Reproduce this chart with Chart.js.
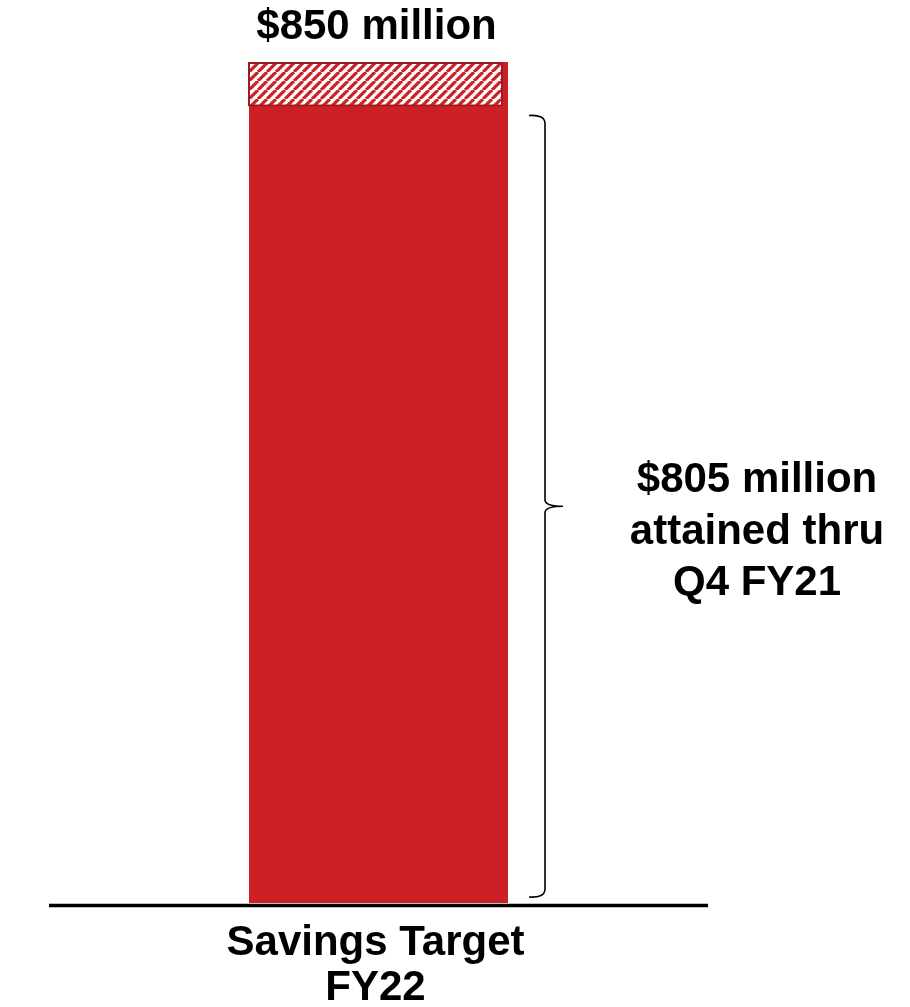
<!DOCTYPE html>
<html>
<head>
<meta charset="utf-8">
<script src="https://cdn.jsdelivr.net/npm/chart.js@4/dist/chart.umd.min.js"></script>
<style>
  html, body { margin: 0; padding: 0; background: #ffffff; }
  #wrap { width: 910px; height: 1007px; position: relative; }
</style>
</head>
<body>
<div id="wrap"><canvas id="c" width="910" height="1007"></canvas></div>
<script>
// ---- data ----
const categories = [["Savings Target", "FY22"]];
const targetValues = [850];
const attainedValues = [805];
const targetLabels = ["$850 million"];
const attainedLabelLines = ["$805 million", "attained thru", "Q4 FY21"];

const FONT = '"Liberation Sans", Arial, Helvetica, sans-serif';
const RED = 'rgb(204,31,38)';
const DARK_RED = 'rgb(155,26,32)';

function makeHatch() {
  const s = 9;
  const p = document.createElement('canvas');
  p.width = s; p.height = s;
  const g = p.getContext('2d');
  g.fillStyle = '#ffffff';
  g.fillRect(0, 0, s, s);
  g.strokeStyle = RED;
  g.lineWidth = 3.2;
  g.beginPath();
  for (let k = -1; k <= 1; k++) {
    g.moveTo(k * s, s);
    g.lineTo(k * s + s, 0);
  }
  g.stroke();
  return g.createPattern(p, 'repeat');
}

const ctx0 = document.getElementById('c').getContext('2d');
const hatch = makeHatch();

const decor = {
  id: 'decor',
  beforeDatasetDraw(chart, args) {
    if (args.index === 1) { chart.ctx.save(); chart.ctx.translate(-3, 0); }
  },
  afterDatasetDraw(chart, args) {
    if (args.index === 1) { chart.ctx.restore(); }
  },
  afterDraw(chart) {
    const ctx = chart.ctx;
    const ca = chart.chartArea;
    const y = chart.scales.y;
    const bar = chart.getDatasetMeta(0).data[0];
    const cx = bar.x;
    const half = bar.width / 2;

    ctx.save();
    // baseline axis
    ctx.strokeStyle = '#000';
    ctx.lineWidth = 3.5;
    ctx.beginPath();
    ctx.moveTo(ca.left, y.getPixelForValue(0) + 2.5);
    ctx.lineTo(ca.right, y.getPixelForValue(0) + 2.5);
    ctx.stroke();

    // text
    ctx.fillStyle = '#000';
    ctx.textAlign = 'center';
    ctx.textBaseline = 'alphabetic';
    ctx.font = 'bold 42px ' + FONT;
    ctx.fillText(targetLabels[0], cx - 2, y.getPixelForValue(targetValues[0]) - 23);

    // category label
    const lab = categories[0];
    ctx.fillText(lab[0], cx - 3, 955);
    ctx.fillText(lab[1], cx - 3, 1000);

    // brace
    const bx = cx + half + 37;
    const top = y.getPixelForValue(attainedValues[0]) + 9;
    const bot = y.getPixelForValue(0) - 6;
    const mid = (top + bot) / 2;
    ctx.strokeStyle = '#000';
    ctx.lineWidth = 1.6;
    ctx.beginPath();
    ctx.moveTo(bx - 16, top);
    ctx.quadraticCurveTo(bx, top - 1, bx, top + 8);
    ctx.lineTo(bx, mid - 6);
    ctx.quadraticCurveTo(bx + 1, mid, bx + 18, mid);
    ctx.quadraticCurveTo(bx + 1, mid, bx, mid + 6);
    ctx.lineTo(bx, bot - 8);
    ctx.quadraticCurveTo(bx, bot + 1, bx - 16, bot);
    ctx.stroke();

    // brace label
    ctx.font = 'bold 42px ' + FONT;
    const lx = 757;
    const base = [492, 543.5, 595];
    attainedLabelLines.forEach((t, i) => ctx.fillText(t, lx, base[i]));
    ctx.restore();
  }
};

new Chart(ctx0, {
  type: 'bar',
  data: {
    labels: categories,
    datasets: [
      {
        label: 'Savings target',
        data: targetValues,
        backgroundColor: RED,
        borderWidth: 0,
        barPercentage: 0.393,
        categoryPercentage: 1,
        grouped: false,
        order: 2
      },
      {
        label: 'Remaining',
        data: attainedValues.map((v, i) => [v, targetValues[i]]),
        backgroundColor: hatch,
        borderColor: DARK_RED,
        borderWidth: 2,
        borderSkipped: false,
        barPercentage: 0.387,
        categoryPercentage: 1,
        grouped: false,
        order: 1
      }
    ]
  },
  options: {
    responsive: false,
    animation: false,
    events: [],
    layout: { padding: { left: 49, right: 202, top: 62, bottom: 104 } },
    plugins: { legend: { display: false }, tooltip: { enabled: false }, title: { display: false } },
    scales: {
      x: { display: false, offset: true },
      y: { display: false, min: 0, max: 850, beginAtZero: true }
    }
  },
  plugins: [decor]
});
</script>
</body>
</html>
